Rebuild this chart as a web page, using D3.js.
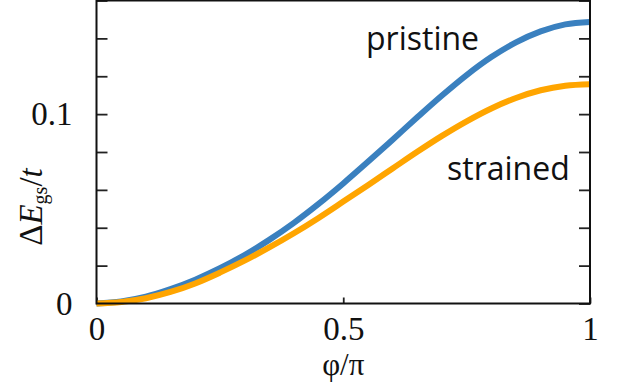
<!DOCTYPE html>
<html>
<head>
<meta charset="utf-8">
<script src="https://cdn.jsdelivr.net/npm/d3@7"></script>
<style>
  body { margin: 0; background: #fff; }
</style>
</head>
<body>
<svg id="chart"></svg>
<script>
// phi / pi sample points
const phi = [0, 0.05, 0.1, 0.15, 0.2, 0.25, 0.3, 0.35, 0.4, 0.45, 0.5,
             0.55, 0.6, 0.65, 0.7, 0.75, 0.8, 0.85, 0.9, 0.95, 1];
// Delta E_gs / t
const pristine = [0, 0.0011, 0.0036, 0.0076, 0.0126, 0.0186, 0.0256, 0.0336, 0.0426, 0.0526, 0.0634,
                  0.0748, 0.0865, 0.0983, 0.1098, 0.1206, 0.1301, 0.1379, 0.1437, 0.1474, 0.1487];
const strained = [0, 0.0008, 0.0028, 0.0061, 0.0106, 0.0163, 0.0226, 0.0296, 0.0371, 0.0452, 0.0538,
                  0.0625, 0.0713, 0.0801, 0.0885, 0.0962, 0.103, 0.1085, 0.1126, 0.115, 0.1158];
const yTicks = [0, 0.02, 0.04, 0.06, 0.08, 0.1, 0.12, 0.14, 0.16];
const yLabels = [0, 0.1];
const xTicks = [0, 0.5, 1];

const W = 618, H = 385;
const mLeft = 96.5, mRight = 590, mTop = 0.5, mBottom = 303.5;
const serif = '"Liberation Serif", "Times New Roman", serif';

const svg = d3.select('#chart').attr('width', W).attr('height', H);

const x = d3.scaleLinear().domain([0, 1]).range([mLeft, mRight]);
const y = d3.scaleLinear().domain([0, 0.16]).range([mBottom, mTop]);

// axes (ticks point inward)
const yAxis = d3.axisLeft(y)
  .tickValues(yTicks)
  .tickSizeInner(-11).tickSizeOuter(0)
  .tickPadding(24)
  .tickFormat(d => yLabels.some(v => Math.abs(v - d) < 1e-9) ? d3.format('~g')(d) : '');

const yAxisR = d3.axisRight(y)
  .tickValues(yTicks)
  .tickSizeInner(-11).tickSizeOuter(0)
  .tickFormat('');

const xAxis = d3.axisBottom(x)
  .tickValues(xTicks)
  .tickSizeInner(-6).tickSizeOuter(0)
  .tickPadding(13)
  .tickFormat(d3.format('~g'));

const styleAxis = g => {
  g.select('.domain').remove();
  g.selectAll('line').attr('stroke', '#222').attr('stroke-width', 1.8);
  g.selectAll('text').attr('fill', '#111').attr('font-family', serif).attr('font-size', 33);
};

svg.append('g').attr('transform', `translate(${mLeft},0)`).call(yAxis).call(styleAxis);
svg.append('g').attr('transform', `translate(${mRight},0)`).call(yAxisR).call(styleAxis);
svg.append('g').attr('transform', `translate(0,${mBottom})`).call(xAxis).call(styleAxis);

// curves
const line = d3.line()
  .x((d, i) => x(phi[i]))
  .y(d => y(d))
  .curve(d3.curveMonotoneX);

svg.append('path')
  .datum(pristine)
  .attr('d', line)
  .attr('fill', 'none')
  .attr('stroke', '#3a80bf')
  .attr('stroke-width', 6);

svg.append('path')
  .datum(strained)
  .attr('d', line)
  .attr('fill', 'none')
  .attr('stroke', '#ffa500')
  .attr('stroke-width', 6);

// frame
svg.append('rect')
  .attr('x', mLeft).attr('y', mTop)
  .attr('width', mRight - mLeft).attr('height', mBottom - mTop)
  .attr('fill', 'none')
  .attr('stroke', '#111')
  .attr('stroke-width', 2);

// curve labels
const sans = '"Open Sans", "Noto Sans", sans-serif';
svg.append('text')
  .attr('x', 366).attr('y', 50)
  .attr('font-family', sans).attr('font-size', 32)
  .attr('fill', '#111')
  .text('pristine');
svg.append('text')
  .attr('x', 447).attr('y', 180)
  .attr('font-family', sans).attr('font-size', 32)
  .attr('fill', '#111')
  .text('strained');

// axis titles
svg.append('text')
  .attr('x', x(0.5)).attr('y', 375)
  .attr('text-anchor', 'middle')
  .attr('font-family', serif).attr('font-size', 31)
  .attr('fill', '#111')
  .text('φ/π');

const yt = svg.append('text')
  .attr('transform', 'translate(42,207) rotate(-90)')
  .attr('text-anchor', 'middle')
  .attr('font-family', serif).attr('font-size', 33)
  .attr('fill', '#111');
yt.append('tspan').text('Δ');
yt.append('tspan').attr('font-style', 'italic').text('E');
yt.append('tspan').attr('font-size', 20).attr('dy', 5).text('gs');
yt.append('tspan').attr('dy', -5).text('/');
yt.append('tspan').attr('font-style', 'italic').text('t');
</script>
</body>
</html>
